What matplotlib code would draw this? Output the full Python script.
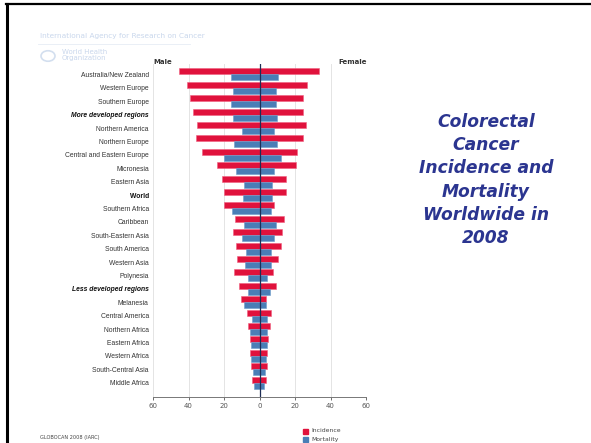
# -*- coding: utf-8 -*-

import numpy as np
import matplotlib.pyplot as plt
from matplotlib.patches import Circle, Rectangle
from matplotlib.lines import Line2D

# regions, top to bottom
regions = [
    "Australia/New Zealand", "Western Europe", "Southern Europe",
    "More developed regions", "Northern America", "Northern Europe",
    "Central and Eastern Europe", "Micronesia", "Eastern Asia", "World",
    "Southern Africa", "Caribbean", "South-Eastern Asia", "South America",
    "Western Asia", "Polynesia", "Less developed regions", "Melanesia",
    "Central America", "Northern Africa", "Eastern Africa", "Western Africa",
    "South-Central Asia", "Middle Africa",
]

# age-standardised rates per 100,000
inc_male = [45.5, 41.0, 39.2, 37.5, 35.0, 36.0, 32.6, 23.8, 21.2, 20.2,
            20.2, 14.0, 15.0, 13.5, 12.9, 14.4, 11.8, 10.5, 7.1, 6.7,
            5.6, 5.4, 4.9, 4.1]
inc_female = [33.5, 26.6, 24.7, 24.3, 26.0, 24.7, 21.3, 20.8, 15.0, 14.8,
              8.2, 14.0, 12.9, 12.2, 10.3, 7.5, 9.5, 3.7, 6.7, 6.0,
              4.9, 4.5, 4.3, 3.7]
mort_male = [16.1, 15.0, 16.1, 15.0, 10.1, 14.3, 20.2, 13.3, 9.0, 9.4,
             15.7, 8.6, 9.6, 7.7, 8.3, 6.7, 6.7, 8.6, 4.5, 5.3,
             4.7, 4.7, 3.4, 3.2]
mort_female = [10.5, 9.5, 9.5, 9.7, 7.9, 9.7, 12.0, 8.2, 6.9, 7.3,
               6.2, 9.2, 8.2, 6.7, 6.3, 4.5, 5.8, 3.5, 4.1, 4.5,
               4.1, 3.5, 3.2, 2.8]

bold_italic = ["More developed regions", "Less developed regions"]
bold = ["World"]

RED = "#E0123C"
BLUE = "#4A7EB6"
NAVY = "#1F2D55"
W, H = 591, 443


def plot_pyramid():
    fig = plt.figure(figsize=(W / 100, H / 100), dpi=100)
    fig.patch.set_facecolor("white")

    # slide border (top and left)
    fig.add_artist(Line2D([6 / W, 1], [1 - 4.3 / H] * 2, color="black", lw=1.6))
    fig.add_artist(Line2D([7 / W] * 2, [0, 1 - 4.3 / H], color="black", lw=2.2))

    ax = fig.add_axes([153 / W, 1 - 397 / H, (366 - 153) / W, (397 - 64) / H])
    y = np.arange(len(regions))
    h = 0.45

    ax.barh(y - h, -np.array(inc_male), height=h, align="edge", color=RED,
            edgecolor="#F06080", lw=0.4, zorder=2)
    ax.barh(y - h, inc_female, height=h, align="edge", color=RED,
            edgecolor="#F06080", lw=0.4, zorder=2)
    ax.barh(y, -np.array(mort_male), height=h, align="edge", color=BLUE,
            edgecolor="#6E9CCB", lw=0.4, zorder=2)
    ax.barh(y, mort_female, height=h, align="edge", color=BLUE,
            edgecolor="#6E9CCB", lw=0.4, zorder=2)
    ax.axvline(0, color=NAVY, lw=0.9, zorder=3)

    ax.set_xlim(-60, 60)
    ax.set_ylim(24.07, -0.78)
    ax.set_xticks(np.arange(-60, 61, 20))
    ax.set_xticklabels([str(abs(v)) for v in range(-60, 61, 20)])
    ax.grid(axis="x", color="#E4E4E4", lw=0.7, zorder=0)
    ax.tick_params(axis="x", labelsize=5, colors="#555555", length=2.5,
                   width=0.6, pad=2)
    ax.tick_params(axis="y", length=0, pad=3)
    for s in ["top", "right", "left"]:
        ax.spines[s].set_visible(False)
    ax.spines["bottom"].set_color("#777777")
    ax.spines["bottom"].set_linewidth(0.7)

    ax.set_yticks(y)
    ax.set_yticklabels(regions, fontsize=4.9, color="#333333",
                       family="Liberation Sans")
    for lab in ax.get_yticklabels():
        if lab.get_text() in bold_italic:
            lab.set_fontweight("bold")
            lab.set_fontstyle("italic")
            lab.set_color("#111111")
        elif lab.get_text() in bold:
            lab.set_fontweight("bold")
            lab.set_color("#111111")

    fig.text(153 / W, 1 - 62 / H, "Male", fontsize=5, fontweight="bold",
             color="#333333", va="center", ha="left")
    fig.text(367 / W, 1 - 62 / H, "Female", fontsize=5, fontweight="bold",
             color="#333333", va="center", ha="right")

    # faint IARC / WHO header
    fig.text(40 / W, 1 - 36 / H, "International Agency for Research on Cancer",
             fontsize=5.3, color="#C9D7EC", va="center", ha="left")
    fig.add_artist(Line2D([38 / W, 190 / W], [1 - 44 / H] * 2,
                          color="#E6ECF5", lw=0.6))
    fig.add_artist(Circle((48 / W, 1 - 56 / H), 7 / W, transform=fig.transFigure,
                          fill=False, ec="#D3DFEF", lw=1.2))
    fig.text(62 / W, 1 - 55 / H, "World Health\nOrganization", fontsize=5,
             color="#C9D7EC", va="center", ha="left", linespacing=1.0)

    fig.text(40 / W, 1 - 437 / H, "GLOBOCAN 2008 (IARC)", fontsize=3.6,
             color="#444444", va="center", ha="left")

    # legend
    for i, (lbl, col) in enumerate([("Incidence", RED), ("Mortality", BLUE)]):
        yy = 1 - (431 + 8.5 * i) / H
        fig.add_artist(Rectangle((303 / W, yy - 2.5 / H), 5 / W, 5 / H,
                                 transform=fig.transFigure, color=col))
        fig.text(311 / W, yy, lbl, fontsize=4.4, color="#444444",
                 va="center", ha="left")

    fig.text(486 / W, 1 - 180 / H,
             "Colorectal\nCancer\nIncidence and\nMortality\nWorldwide in\n2008",
             fontsize=12.3, fontweight="bold", fontstyle="italic",
             color="#2B3590", ha="center", va="center", linespacing=1.37)

    fig.savefig("out.png", dpi=100)


if __name__ == "__main__":
    plot_pyramid()
